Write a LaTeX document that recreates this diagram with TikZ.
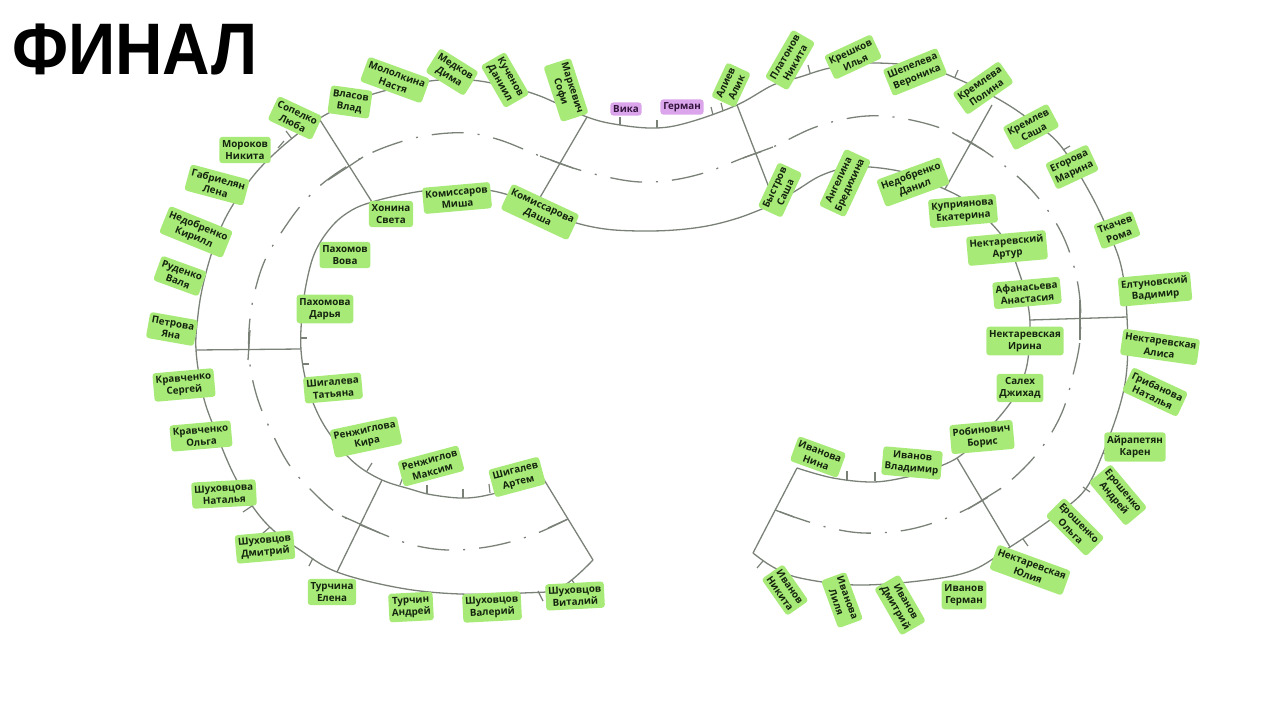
\documentclass[tikz,border=0pt]{standalone}
\usepackage{fontspec}
\setmainfont{Open Sans}
\newfontfamily\titlefont{Liberation Sans}
\begin{document}
\begin{tikzpicture}[x=1pt,y=-1pt]
\definecolor{lg}{RGB}{168,234,120}
\definecolor{pu}{RGB}{218,165,234}
\definecolor{tx}{RGB}{20,36,14}
\definecolor{ptx}{RGB}{50,20,60}
\definecolor{ln}{RGB}{122,130,120}
\tikzset{
 nm/.style={fill=lg, rounded corners=3pt, inner xsep=2.8pt, inner ysep=3.6pt, align=center, text=tx, font=\bfseries\fontsize{9.8}{12}\selectfont},
 pm/.style={nm, fill=pu, text=ptx, inner ysep=3pt},
 edgeline/.style={ln, line width=1.3pt},
 midline/.style={ln, line width=1.3pt, dash pattern=on 32pt off 14pt on 2pt off 14pt},
 tick/.style={ln, line width=1.2pt},
}
\useasboundingbox (0,0) rectangle (1279,720);
\node[anchor=base west, inner sep=0, font=\titlefont\bfseries\fontsize{73}{73}\selectfont, xscale=0.9] (title) at (12,74) {ФИНАЛ};

% outer edge
\draw[edgeline] plot[smooth, tension=0.6] coordinates {(593,560) (560,588) (523,593) (460,594) (400,588) (337,572) (300,550) (273,530) (253,507) (233,473) (215,430) (203,395) (196,350) (198,315) (203,285) (212,252) (223,223) (238,197) (260,168) (290,140) (320,118) (350,103) (380,92) (430,81) (470,80) (505,86) (540,96) (587,117) (620,125) (657,128) (690,122) (737,105) (773,85) (800,77) (830,68) (870,63) (923,67) (960,80) (1000,100) (1030,120) (1060,145) (1090,193) (1110,235) (1122,270) (1127,317) (1127,367) (1120,405) (1103,453) (1087,487) (1067,507) (1040,527) (1010,547) (973,570) (927,580) (857,585) (800,578) (773,567) (753,553)};
% inner edge
\draw[edgeline] plot[smooth, tension=0.6] coordinates {(543,478) (500,492) (467,498) (433,495) (410,489) (382,480) (357,465) (338,445) (320,418) (307,385) (301,350) (302,315) (307,280) (316,250) (333,225) (352,210) (372,202) (400,195) (430,190) (460,188) (493,191) (520,199) (548,211) (573,222) (605,229) (640,231) (675,230) (707,226) (735,219) (757,211) (775,203) (797,190) (820,176) (845,168) (870,167) (907,173) (940,187) (965,200) (990,222) (1008,245) (1020,275) (1028,305) (1030,330) (1027,365) (1018,390) (1005,410) (980,438) (957,458) (930,470) (907,477) (873,482) (833,478) (797,468)};
% centre line
\draw[midline] plot[smooth, tension=0.6] coordinates {(568,519) (540,532) (510,542) (480,548) (447,550) (413,545) (380,533) (340,515) (313,492) (290,466) (272,433) (258,400) (250,365) (249,330) (254,295) (265,260) (283,230) (303,203) (327,180) (363,157) (397,143) (430,135) (467,133) (500,140) (540,156) (573,168) (607,177) (640,182) (673,180) (707,172) (743,158) (773,147) (813,128) (850,118) (883,116) (920,122) (953,133) (983,150) (1017,176) (1040,200) (1060,230) (1073,263) (1080,300) (1080,340) (1073,375) (1063,410) (1047,440) (1027,465) (1000,489) (967,509) (933,523) (900,531) (863,533) (830,528) (800,519) (775,510)};
% centre-line dashes crossing the dividers
\draw[edgeline] (250,330) -- (248,360);
\draw[edgeline] (1080,300) -- (1080,340);
\draw[edgeline] (328,180) -- (363,157);
\draw[edgeline] (540,156) -- (573,168);
\draw[edgeline] (743,158) -- (773,147);
\draw[edgeline] (953,133) -- (983,150);
\draw[edgeline] (1000,489) -- (968,509);
\draw[edgeline] (342,516) -- (380,533);
\draw[edgeline] (548,528) -- (568,519);
\draw[edgeline] (775,510) -- (794,517);

% radial lines
\draw[edgeline] (320,120) -- (372,202);
\draw[edgeline] (196,350) -- (301,349);
\draw[edgeline] (337,572) -- (382,480);
\draw[edgeline] (543,478) -- (593,560);
\draw[edgeline] (587,117) -- (535,206);
\draw[edgeline] (737,105) -- (775,203);
\draw[edgeline] (992,105) -- (945,189);
\draw[edgeline] (1030,320) -- (1127,317);
\draw[edgeline] (957,458) -- (1010,547);
\draw[edgeline] (797,468) -- (753,553);

% seat ticks
\draw[tick] (427,494) -- (427,485);
\draw[tick] (463,498) -- (463,489);
\draw[tick] (490,493) -- (489,484);
\draw[tick] (367,471) -- (372,463);
\draw[tick] (400,485) -- (403,477);
\draw[tick] (538,591) -- (543,601);
\draw[tick] (572,580) -- (577,588);
\draw[tick] (252,506) -- (243,512);
\draw[tick] (270,527) -- (262,534);
\draw[tick] (313,558) -- (309,566);
\draw[tick] (300,338) -- (307,338);
\draw[tick] (302,364) -- (309,364);
\draw[tick] (278,148) -- (284,141);
\draw[tick] (292,139) -- (286,131);
\draw[tick] (620,125) -- (620,117);
\draw[tick] (657,128) -- (657,120);
\draw[tick] (713,115) -- (711,107);
\draw[tick] (723,111) -- (721,103);
\draw[tick] (847,480) -- (847,471);
\draw[tick] (875,481) -- (875,472);
\draw[tick] (763,561) -- (757,568);
\draw[tick] (1103,453) -- (1111,456);
\draw[tick] (1083,487) -- (1090,492);
\draw[tick] (1023,539) -- (1028,546);
\draw[tick] (810,73) -- (808,65);
\draw[tick] (955,77) -- (958,70);
\draw[tick] (1063,150) -- (1070,146);

% labels
\node[nm, rotate=-25] (sopelko) at (295,118) {Сопелко\\Люба};
\node[nm, rotate=-8] (vlasov) at (350,102) {Власов\\Влад};
\node[nm, rotate=-20] (mololkina) at (395,80) {Мололкина\\Настя};
\node[nm, rotate=-32] (medkov) at (452,72) {Медков\\Дима};
\node[nm, rotate=-60] (kuchenov) at (505,80) {Кученов\\Даниил};
\node[nm, rotate=-72] (markevich) at (566,90) {Маркевич\\Софи};
\node[pm] (vika) at (626,109) {Вика};
\node[pm] (german) at (682,107) {Герман};
\node[nm, rotate=65] (aliev) at (731,85) {Алиев\\Алик};
\node[nm, rotate=60] (platonov) at (790,60) {Платонов\\Никита};
\node[nm, rotate=25] (kreshkov) at (853,57) {Крешков\\Илья};
\node[nm, rotate=22] (shepeleva) at (915,72) {Шепелева\\Вероника};
\node[nm, rotate=35] (kremleva) at (983,88) {Кремлева\\Полина};
\node[nm, rotate=28] (kremlev) at (1031,127) {Кремлев\\Саша};
\node[nm, rotate=25] (egorova) at (1072,167) {Егорова\\Марина};
\node[nm, rotate=20] (tkachev) at (1117,230) {Ткачев\\Рома};
\node[nm, rotate=5] (eltunovsky) at (1155,289) {Елтуновский\\Вадимир};
\node[nm, rotate=-8] (alisa) at (1160,347) {Нектаревская\\Алиса};
\node[nm, rotate=-25] (gribanova) at (1155,392) {Грибанова\\Наталья};
\node[nm] (ayrapetyan) at (1135,447) {Айрапетян\\Карен};
\node[nm, rotate=-50] (eroshenkoA) at (1118,495) {Ерошенко\\Андрей};
\node[nm, rotate=-45] (eroshenkoO) at (1075,527) {Ерошенко\\Ольга};
\node[nm, rotate=-20] (yulia) at (1030,570) {Нектаревская\\Юлия};
\node[nm] (ivanovG) at (964,595) {Иванов\\Герман};
\node[nm, rotate=-60] (ivanovD) at (900,605) {Иванов\\Дмитрий};
\node[nm, rotate=-70] (ivanovaL) at (842,600) {Иванова\\Лиля};
\node[nm, rotate=-55] (ivanovN) at (785,590) {Иванов\\Никита};
\node[nm, rotate=-20] (ivanovaN) at (818,457) {Иванова\\Нина};
\node[nm, rotate=-5] (ivanovV) at (912,463) {Иванов\\Владимир};
\node[nm, rotate=5] (robinovich) at (982,437) {Робинович\\Борис};
\node[nm] (saleh) at (1020,388) {Салех\\Джихад};
\node[nm] (irina) at (1025,341) {Нектаревская\\Ирина};
\node[nm, rotate=5] (afanasieva) at (1027,293) {Афанасьева\\Анастасия};
\node[nm, rotate=5] (artur) at (1007,248) {Нектаревский\\Артур};
\node[nm, rotate=5] (kupriyanova) at (963,211) {Куприянова\\Екатерина};
\node[nm, rotate=20] (nedobrenkoD) at (913,182) {Недобренко\\Данил};
\node[nm, rotate=65] (angelina) at (845,183) {Ангелина\\Бредихина};
\node[nm, rotate=65] (bystrov) at (780,190) {Быстров\\Саша};
\node[nm, rotate=-25] (komissarova) at (540,212) {Комиссарова\\Даша};
\node[nm, rotate=5] (komissarov) at (457,198) {Комиссаров\\Миша};
\node[nm] (honina) at (391,214) {Хонина\\Света};
\node[nm] (pahomov) at (345,255) {Пахомов\\Вова};
\node[nm] (pahomova) at (325,309) {Пахомова\\Дарья};
\node[nm, rotate=5] (shigaleva) at (333,388) {Шигалева\\Татьяна};
\node[nm, rotate=12] (renzhiglova) at (366,437) {Ренжиглова\\Кира};
\node[nm, rotate=15] (renzhiglov) at (431,466) {Ренжиглов\\Максим};
\node[nm, rotate=15] (shigalev) at (517,477) {Шигалев\\Артем};
\node[nm, rotate=3] (shuhovtsovVit) at (575,596) {Шуховцов\\Виталий};
\node[nm, rotate=3] (shuhovtsovVal) at (492,607) {Шуховцов\\Валерий};
\node[nm, rotate=3] (turchin) at (411,607) {Турчин\\Андрей};
\node[nm] (turchina) at (332,592) {Турчина\\Елена};
\node[nm, rotate=5] (shuhovtsovD) at (265,547) {Шуховцов\\Дмитрий};
\node[nm, rotate=3] (shuhovtsova) at (224,494) {Шуховцова\\Наталья};
\node[nm, rotate=5] (kravchenkoO) at (201,436) {Кравченко\\Ольга};
\node[nm, rotate=5] (kravchenkoS) at (184,385) {Кравченко\\Сергей};
\node[nm, rotate=-10] (petrova) at (172,329) {Петрова\\Яна};
\node[nm, rotate=-20] (rudenko) at (180,276) {Руденко\\Валя};
\node[nm, rotate=-22] (nedobrenkoK) at (196,232) {Недобренко\\Кирилл};
\node[nm, rotate=-15] (gabrielyan) at (217,185) {Габриелян\\Лена};
\node[nm] (morokov) at (245,150) {Мороков\\Никита};
\end{tikzpicture}
\end{document}
